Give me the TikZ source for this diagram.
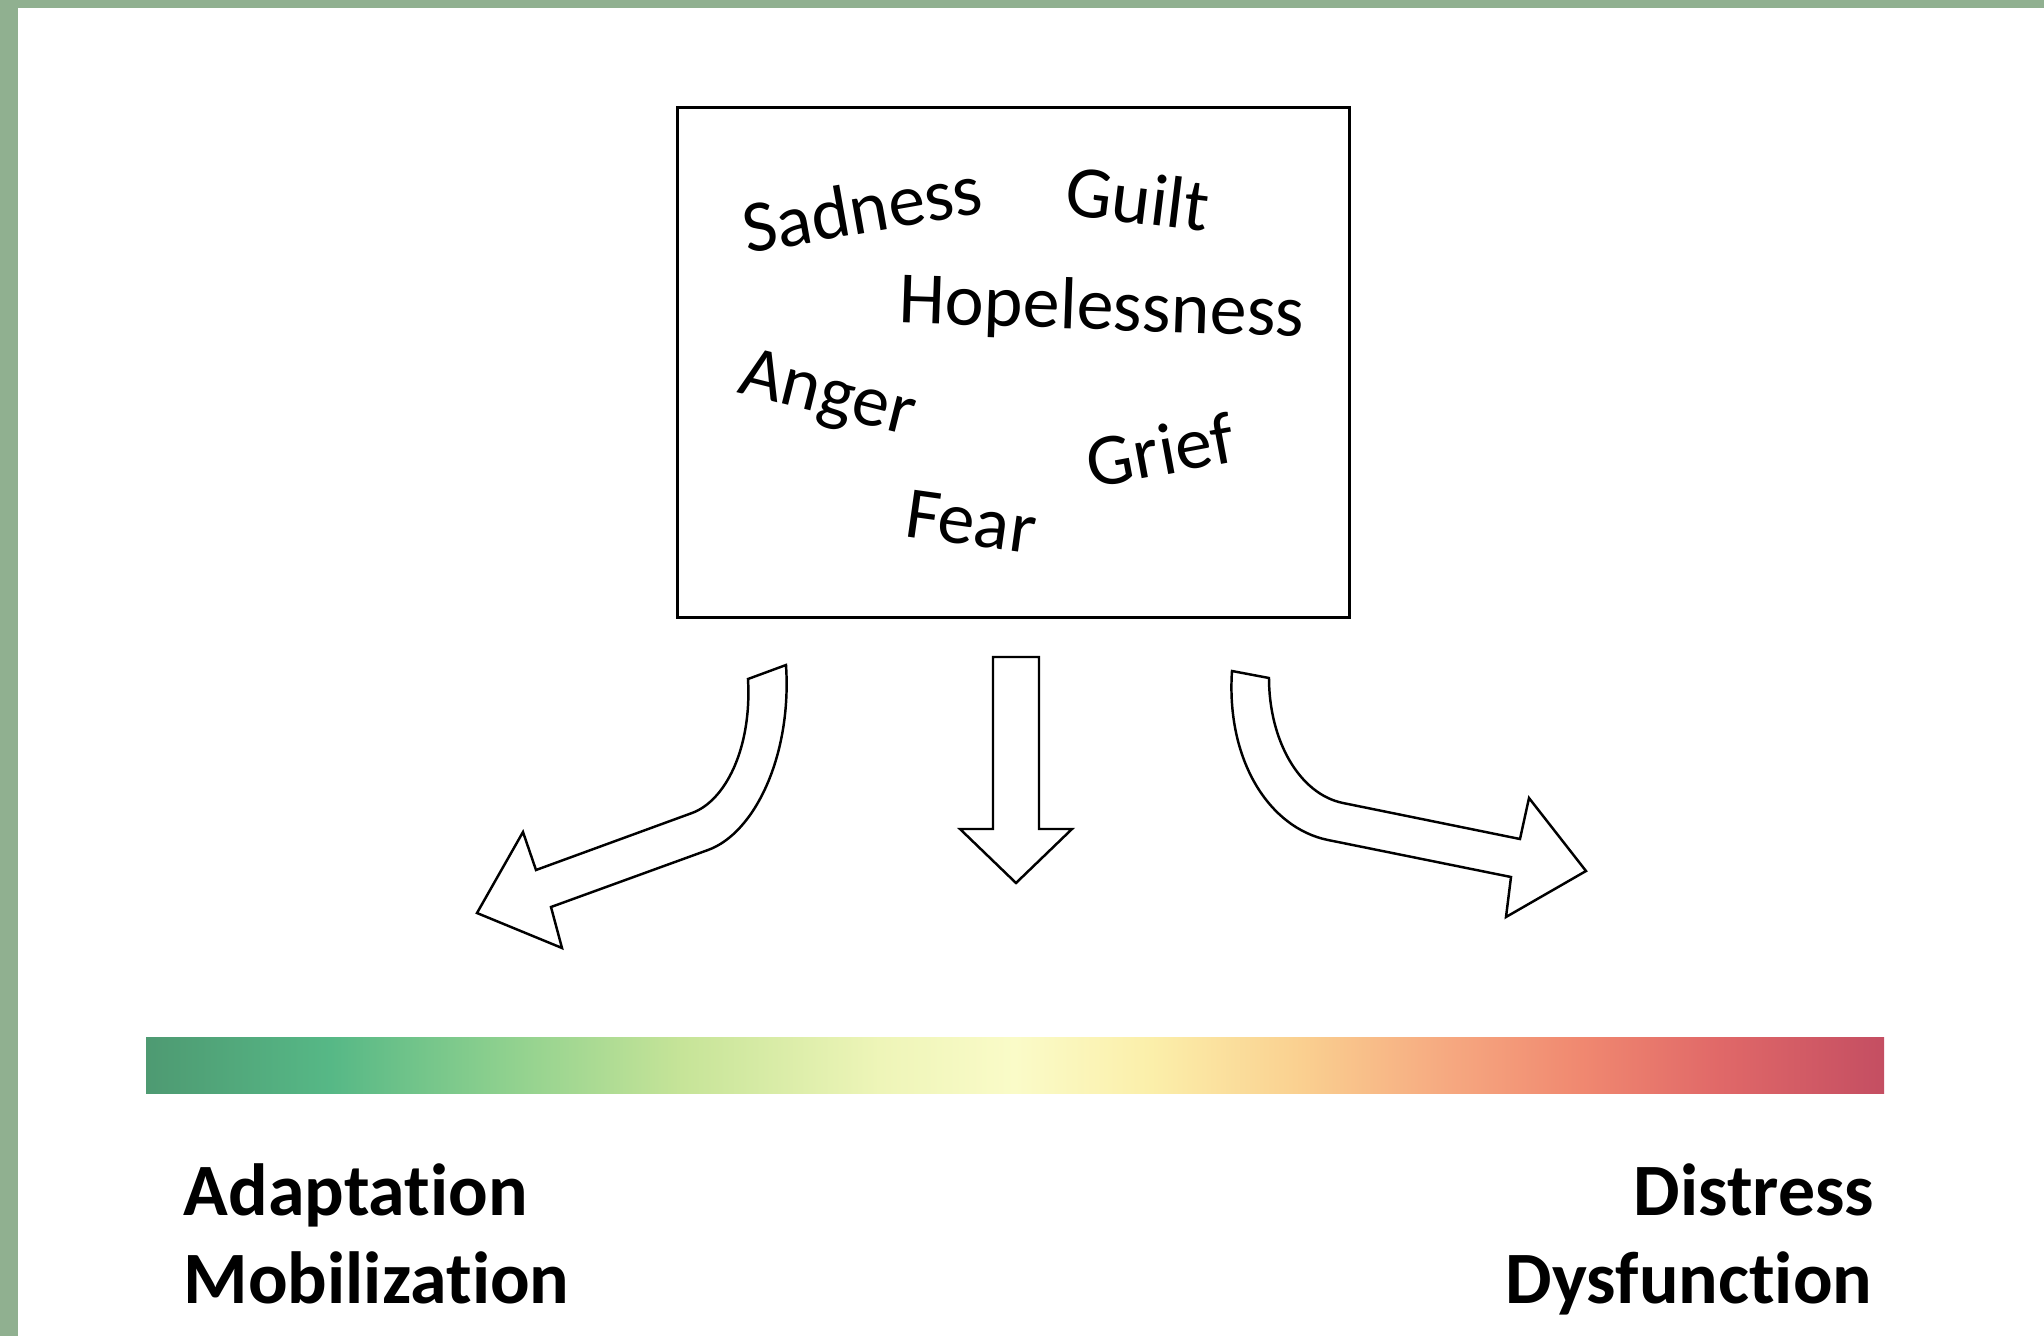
\documentclass[tikz,border=0pt]{standalone}
\usepackage{fontspec}
\setmainfont{Carlito}[Ligatures=NoCommon]
\usepackage{xcolor}
\usepackage{tikz}
\usetikzlibrary{arrows.meta,positioning}

\definecolor{framegreen}{HTML}{90B090}
\definecolor{s0}{HTML}{4E9A72}
\definecolor{s1}{HTML}{56B886}
\definecolor{s2}{HTML}{8DD08E}
\definecolor{s3}{HTML}{C6E498}
\definecolor{s4}{HTML}{EEF5B8}
\definecolor{s5}{HTML}{FAFBC8}
\definecolor{s6}{HTML}{FBEFAA}
\definecolor{s7}{HTML}{FAD090}
\definecolor{s8}{HTML}{F6A880}
\definecolor{s9}{HTML}{F08870}
\definecolor{s10}{HTML}{E06868}
\definecolor{s11}{HTML}{C44E62}

\pgfdeclarehorizontalshading{copebar}{100bp}{color(0bp)=(s0); color(25bp)=(s0);
  color(30.3bp)=(s1); color(35.2bp)=(s2); color(40.4bp)=(s3); color(46.1bp)=(s4);
  color(50bp)=(s5); color(53.9bp)=(s6); color(58.2bp)=(s7); color(62.5bp)=(s8);
  color(66.3bp)=(s9); color(70.3bp)=(s10); color(75bp)=(s11); color(100bp)=(s11)}

\tikzset{
  emobox/.style={draw, line width=0.9pt, minimum width=6.71cm, minimum height=5.09cm, inner sep=0pt},
  word/.style={font=\fontsize{21}{25}\selectfont, inner sep=0pt},
  pole/.style={font=\fontsize{21}{25}\selectfont\bfseries, inner sep=0pt},
  blockarrow/.style={draw, line width=0.7pt, fill=white, line join=miter},
}

\begin{document}
\begin{tikzpicture}[x=0.01cm, y=-0.01cm]

  \useasboundingbox (0,0) rectangle (2044,1336);
  \fill[white] (0,0) rectangle (2044,1336);

  % frame
  \fill[framegreen] (0,0) rectangle (2044,8);
  \fill[framegreen] (0,0) rectangle (18,1336);

  % the emotions
  \node[emobox] (emotions) at (1013.5,362.5) {};
  \node[word, rotate=10]   (sadness) at (862,208)  {Sadness};
  \node[word, rotate=-7]   (guilt)   at (1138,198) {Guilt};
  \node[word, rotate=-2]   (hope)    at (1102,310) {Hopelessness};
  \node[word, rotate=-14]  (anger)   at (827,397)  {Anger};
  \node[word, rotate=10.5] (grief)   at (1160,450) {Grief};
  \node[word, rotate=-8]   (fear)    at (971,522)  {Fear};

  % three block arrows
  \draw[blockarrow] (748,679) -- (786,665)
    .. controls (792,755) and (755,833) .. (708,850)
    -- (551,907) -- (562,948) -- (477,913) -- (523,832) -- (536,870) -- (692,813)
    .. controls (725,801) and (752,749) .. (748,679) -- cycle;

  \draw[blockarrow] (993,657) -- (1039,657) -- (1039,829) -- (1072,829)
    -- (1016,883) -- (960,829) -- (993,829) -- cycle;

  \draw[blockarrow] (1232,671)
    .. controls (1226,760) and (1269,828) .. (1328,840)
    -- (1511,877) -- (1506,917) -- (1586,871) -- (1529,798) -- (1520,839) -- (1343,803)
    .. controls (1299,794) and (1269,740) .. (1269,678) -- cycle;

  % scale
  \shade[shading=copebar] (146,1037) rectangle (1884,1093);

  \node[pole, anchor=base west] (adapt)  at (183,1215) {Adaptation};
  \node[pole, anchor=base west] (mobil)  at (183,1303) {Mobilization};
  \node[pole, anchor=base east] (stress) at (1875,1215) {Distress};
  \node[pole, anchor=base east] (dysf)   at (1873,1303) {Dysfunction};

\end{tikzpicture}
\end{document}
